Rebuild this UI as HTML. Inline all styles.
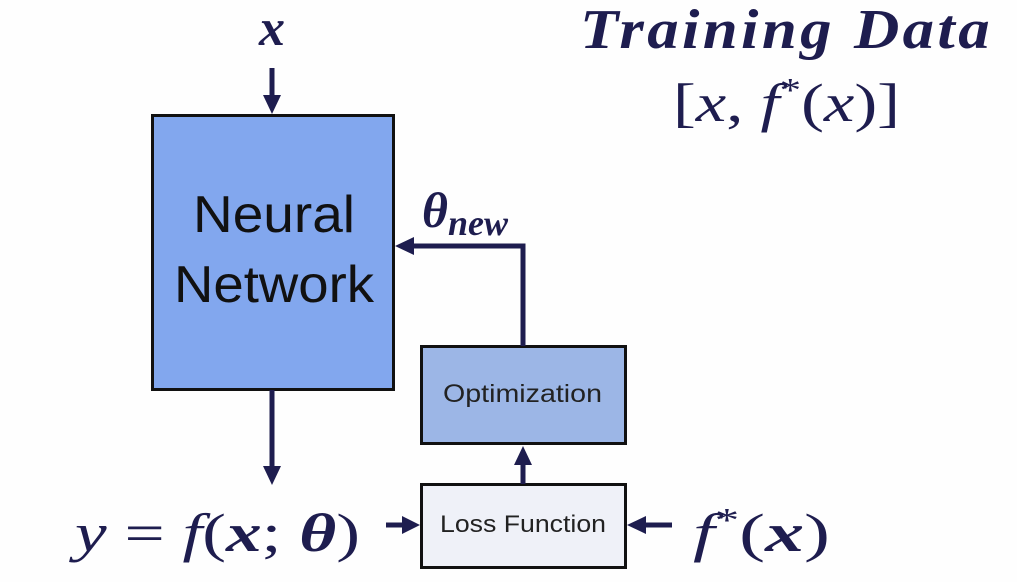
<!DOCTYPE html>
<html><head><style>
html,body{margin:0;padding:0;background:#fff;}
svg{display:block}
</style></head><body>
<svg width="1017" height="582" viewBox="0 0 1017 582" xmlns="http://www.w3.org/2000/svg">
<rect width="1017" height="582" fill="#fefefe"/>
<g fill="#1e1d4f" font-family="Liberation Serif, serif">
<text x="580" y="48" font-size="56" font-weight="bold" font-style="italic" letter-spacing="3" textLength="413" lengthAdjust="spacingAndGlyphs">Training Data</text>
<text x="673" y="121" font-size="54" textLength="227" lengthAdjust="spacingAndGlyphs"><tspan>[</tspan><tspan font-style="italic">x</tspan><tspan>, </tspan><tspan font-style="italic">f</tspan><tspan font-size="34" dy="-20">*</tspan><tspan dy="20">(</tspan><tspan font-style="italic">x</tspan><tspan>)]</tspan></text>
<text x="272" y="45" font-size="52" font-weight="bold" font-style="italic" text-anchor="middle">x</text>
<text x="422" y="227" font-size="50" font-weight="bold" font-style="italic">θ<tspan font-size="36" dy="8">new</tspan></text>
<text x="75" y="551" font-size="54" font-style="italic" textLength="285" lengthAdjust="spacingAndGlyphs">y<tspan font-style="normal"> = </tspan>f<tspan font-style="normal">(</tspan><tspan font-weight="bold">x</tspan><tspan font-style="normal">; </tspan><tspan font-weight="bold">θ</tspan><tspan font-style="normal">)</tspan></text>
<text x="693" y="551" font-size="54" font-style="italic" textLength="137" lengthAdjust="spacingAndGlyphs">f<tspan font-size="34" dy="-20" font-style="normal">*</tspan><tspan dy="20" font-style="normal">(</tspan><tspan font-weight="bold">x</tspan><tspan font-style="normal">)</tspan></text>
</g>
<rect x="152.5" y="115.5" width="241" height="274" fill="#82a7ee" stroke="#111" stroke-width="3"/>
<text x="274" y="232" font-family="Liberation Sans, sans-serif" font-size="52" text-anchor="middle" fill="#111" textLength="162" lengthAdjust="spacingAndGlyphs">Neural</text>
<text x="274" y="302" font-family="Liberation Sans, sans-serif" font-size="52" text-anchor="middle" fill="#111" textLength="200" lengthAdjust="spacingAndGlyphs">Network</text>
<rect x="421.5" y="346.5" width="204" height="97" fill="#9cb6e6" stroke="#111" stroke-width="3"/>
<text x="443" y="402" font-family="Liberation Sans, sans-serif" font-size="25" fill="#222" textLength="159" lengthAdjust="spacingAndGlyphs">Optimization</text>
<rect x="421.5" y="484.5" width="204" height="83" fill="#eff1f8" stroke="#111" stroke-width="3"/>
<text x="440" y="532" font-family="Liberation Sans, sans-serif" font-size="24" fill="#222" textLength="166" lengthAdjust="spacingAndGlyphs">Loss Function</text>
<g stroke="#1e1d4f" stroke-width="5" fill="none">
<line x1="272" y1="68" x2="272" y2="98"/>
<line x1="272" y1="390" x2="272" y2="468"/>
<polyline points="523,346 523,246 412,246"/>
<line x1="523" y1="484" x2="523" y2="464"/>
<line x1="386" y1="525" x2="406" y2="525"/>
<line x1="672" y1="525" x2="644" y2="525"/>
</g>
<g fill="#1e1d4f">
<polygon points="263,95 281,95 272,114"/>
<polygon points="263,466 281,466 272,485"/>
<polygon points="395,246 414,237 414,255"/>
<polygon points="514,465 532,465 523,446"/>
<polygon points="402,516 402,534 420,525"/>
<polygon points="646,516 646,534 627,525"/>
</g>
</svg>
</body></html>
